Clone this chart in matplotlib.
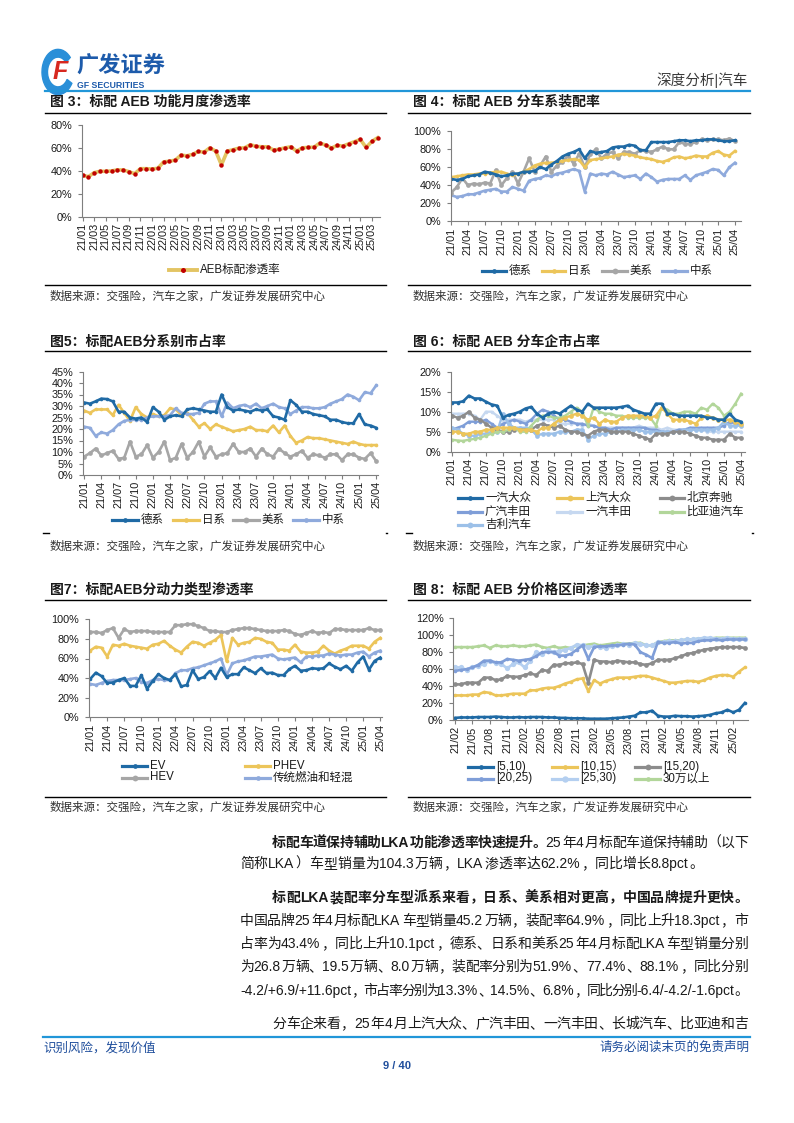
import matplotlib
matplotlib.use("Agg")
import matplotlib.pyplot as plt
from matplotlib.lines import Line2D
from matplotlib import patches

plt.rcParams['font.family'] = ['Liberation Sans', 'Noto Sans CJK SC', 'DejaVu Sans']

W, H = 794, 1123
fig = plt.figure(figsize=(W / 100, H / 100), dpi=100)

# ---------------- data ----------------
ticks_2m = ["21/01", "21/03", "21/05", "21/07", "21/09", "21/11", "22/01", "22/03", "22/05",
            "22/07", "22/09", "22/11", "23/01", "23/03", "23/05", "23/07", "23/09", "23/11",
            "24/01", "24/03", "24/05", "24/07", "24/09", "24/11", "25/01", "25/03"]
ticks_3m = ["21/01", "21/04", "21/07", "21/10", "22/01", "22/04", "22/07", "22/10", "23/01",
            "23/04", "23/07", "23/10", "24/01", "24/04", "24/07", "24/10", "25/01", "25/04"]
ticks_3m_b = ["21/02", "21/05", "21/08", "21/11", "22/02", "22/05", "22/08", "22/11", "23/02",
              "23/05", "23/08", "23/11", "24/02", "24/05", "24/08", "24/11", "25/02"]

# fig 3: AEB standard penetration (%), 21/01-25/04
aeb_rate = [36.1, 34.9, 38.4, 39.6, 39.6, 39.9, 40.8, 40.8, 39.3, 37.5,
            41.9, 41.9, 41.6, 42.2, 47.8, 48.4, 49.3, 53.7, 53.1, 54.3,
            56.9, 56.3, 60.1, 57.2, 45.2, 57.2, 58.4, 59.8, 60.1, 62.8,
            61.3, 61.0, 61.0, 58.1, 58.9, 60.1, 61.0, 57.2, 60.1, 60.4,
            60.7, 64.2, 62.5, 59.8, 62.2, 61.6, 63.6, 65.4, 67.4, 60.4,
            65.7, 68.9]

# fig 4: fitment rate by brand origin (%)
f4_de = [47, 46, 47, 50, 51, 52, 55, 54, 52, 50,
         51, 53, 53, 55, 55, 56, 60, 58, 63, 67,
         72, 75, 77, 80, 70, 78, 76, 77, 78, 82,
         83, 83, 85, 84, 79, 79, 88, 88, 88, 88,
         89, 90, 90, 89, 90, 90, 91, 91, 90, 89,
         89, 90]
f4_jp = [49, 50, 51, 52, 52, 53, 53, 54, 55, 55,
         53, 51, 53, 55, 58, 62, 64, 65, 65, 66,
         67, 68, 69, 68, 60, 68, 69, 70, 71, 72,
         74, 75, 74, 73, 71, 70, 69, 67, 66, 68,
         71, 72, 70, 71, 73, 72, 72, 76, 78, 74,
         73, 78]
f4_us = [32, 38, 48, 40, 42, 41, 43, 42, 57, 40,
         48, 55, 42, 55, 70, 55, 62, 72, 55, 62,
         66, 73, 64, 75, 60, 75, 80, 70, 75, 77,
         70, 77, 77, 75, 79, 78, 77, 80, 83, 80,
         80, 88, 86, 86, 88, 91, 90, 91, 91, 90,
         92, 89]
f4_cn = [29, 27, 28, 30, 30, 32, 34, 35, 36, 33,
         33, 38, 36, 34, 45, 47, 48, 51, 50, 53,
         54, 56, 58, 56, 33, 53, 51, 53, 52, 55,
         52, 49, 50, 51, 47, 53, 49, 44, 46, 47,
         47, 47, 51, 46, 51, 53, 55, 58, 57, 51,
         60, 65]

# fig 5: market share by brand origin (%)
f5_de = [31.5, 31, 32, 33.2, 33, 32, 27.5, 27.5, 25, 24.5,
         25, 23, 29.5, 27.5, 24, 25.5, 26, 25.5, 28.5, 29,
         28.5, 28, 27.5, 27.5, 35, 29.5, 28, 28.5, 28, 27.5,
         28.5, 28, 28.5, 25.5, 25, 24, 32.5, 30.5, 27.5, 27.5,
         26.5, 26, 25.5, 24, 24, 23, 22.5, 22.5, 26.5, 22,
         21.5, 20.5]
f5_jp = [28, 27, 28.5, 28.5, 28.5, 26, 30.5, 27, 23.5, 29.5,
         26.5, 25, 26.5, 25.5, 26, 29, 28.5, 26, 27, 24,
         21, 22.5, 20, 22, 21, 20, 19, 19.5, 20, 21,
         19.5, 19.5, 19, 21.5, 18.5, 21.5, 17, 14, 15, 16.5,
         16, 16, 15.5, 15, 14.5, 14, 13.5, 14.5, 13.5, 13,
         13, 13]
f5_us = [8, 9.5, 11.5, 8.5, 9.5, 10.5, 7, 7.5, 14.5, 8,
         9, 13, 7.5, 10, 14.5, 6.5, 7.5, 13.5, 7.5, 10,
         14.5, 8, 12, 8, 9, 9.5, 13.5, 10, 10, 11.5,
         8, 11.5, 9, 8, 11.5, 9.5, 8, 9, 10.5, 7.5,
         9, 8.5, 7.5, 9, 9, 6.5, 9, 9, 7.5, 7,
         9.5, 6]
f5_cn = [21, 20.5, 17, 18.5, 18, 19.5, 22, 23.5, 24, 24,
         24, 25, 25.5, 25.5, 25.5, 26, 29, 27, 26.5, 26.5,
         27, 31, 32, 32, 25.5, 31.5, 29, 30, 30.5, 29.5,
         31, 29, 30, 31, 29.5, 29, 26.5, 28, 29.5, 29.5,
         29, 29, 29.5, 31, 32, 33, 35, 34, 32.5, 36,
         35.5, 39]

# fig 6: market share by automaker (%)
f6_faw_vw = [12.3, 12.3, 12.6, 14.0, 13.3, 13.3, 12.5, 11.8, 11.5, 8.5,
             9.2, 9.5, 10.0, 10.8, 11.2, 9.5, 8.5, 9.5, 10.0, 9.5,
             10.5, 11.5, 10.5, 10.0, 12.0, 11.0, 11.0, 11.0, 11.0, 11.0,
             11.2, 11.5, 10.5, 10.0, 9.5, 9.5, 12.0, 12.0, 9.5, 9.5,
             9.0, 9.0, 9.0, 9.0, 9.0, 8.5, 8.5, 8.0, 8.0, 9.5,
             8.0, 7.5]
f6_saic_vw = [5, 5, 4.5, 4.5, 5, 5, 5.5, 5.5, 6, 6,
              6, 6, 5.5, 5.5, 5.5, 5, 6, 6, 7, 8,
              8.5, 9, 9.5, 9, 8, 8.5, 7, 8, 7.5, 7.5,
              8.5, 9, 9, 9, 9, 8.5, 9, 11, 9.5, 8,
              8, 8, 7.5, 7, 8.5, 9, 8.5, 8, 8, 8,
              7.5, 7]
f6_bj_benz = [9, 8.5, 9, 10, 8.5, 8, 7, 6, 5.5, 5,
              5, 5.5, 5.5, 5.5, 5.5, 6.5, 7, 6.5, 6, 6.5,
              5.5, 5, 5, 4.5, 4, 5, 5.5, 5.5, 5, 5,
              5, 5, 4.5, 4, 3.5, 3, 4.5, 4.5, 4.5, 5,
              5, 5, 4.5, 4, 3.5, 3.5, 3, 3, 3, 4.5,
              3.5, 3.5]
f6_gac_toyota = [5.5, 6, 6.5, 7.5, 7.5, 7.5, 8, 7, 6, 7,
                 7.5, 8, 7.5, 7, 8, 9.5, 10.5, 10, 9, 8,
                 8, 7.5, 7, 7, 6.5, 6.5, 6, 6, 5.5, 6,
                 6, 6, 6, 6, 6, 5.5, 5.5, 5, 5, 5,
                 5.5, 5.5, 6, 6, 6, 6, 6, 6, 6.5, 7.5,
                 7, 7]
f6_faw_toyota = [9.5, 9.5, 9.5, 9.5, 9, 8, 10, 10, 9, 8,
                 8, 8, 8, 7.5, 8, 8, 8, 8, 8, 7,
                 7, 7, 7, 6.5, 7, 6.5, 6, 6, 6, 6,
                 6, 6, 6, 6.5, 6, 6, 6, 5.5, 6, 5.5,
                 5.5, 5.5, 5.5, 5.5, 5.5, 5, 5, 5, 5, 5,
                 5, 5]
f6_byd = [3, 2.8, 2.7, 3, 3.2, 3.5, 4, 4.5, 5, 5,
          5.5, 6, 5, 5, 6.5, 8, 9, 9, 8.5, 8.5,
          9, 10, 11, 10, 6.5, 11, 10, 9.5, 9.5, 9,
          9, 8.5, 8.5, 8.5, 8.5, 8.5, 6.5, 11, 10.5, 9.5,
          9.5, 10, 10, 9.5, 11, 10.5, 12, 11, 9, 10,
          12, 14.5]
f6_geely = [6, 5.5, 4.5, 4, 4, 4.5, 4.5, 5, 5, 9.5,
            7, 6, 6, 6, 5.5, 4, 4.5, 4.5, 4.5, 5,
            5, 5, 5.5, 5.5, 3, 4, 4.5, 4.5, 5, 5,
            5.5, 5.5, 5.5, 5.5, 5, 5, 5, 5, 5, 5,
            5, 5.5, 5.5, 5.5, 5.5, 5.5, 5.5, 6, 7.5, 6.5,
            6.5, 6.5]

# fig 7: penetration by powertrain (%)
f7_ev = [39, 45.5, 42, 35, 35.5, 38, 40, 32, 32, 43,
         29, 37, 44, 40, 38, 44, 31.5, 33, 48, 39,
         41, 47, 40, 50.5, 41, 44, 44, 51, 48, 45,
         50, 45, 45.5, 43, 43, 49, 52.5, 47.5, 48, 50,
         49.5, 50, 55, 51.5, 49, 52.5, 47.5, 56, 62, 48.5,
         57.5, 61]
f7_phev = [68, 72, 71, 62, 74, 73, 75, 73, 72, 71,
           70, 74, 75, 78, 73, 69, 66, 72, 77, 76,
           73, 76, 79, 84, 57, 81, 74, 76, 77, 81,
           80, 77, 76, 69, 69, 68, 74, 67, 66, 66,
           67, 73, 68, 65, 68, 70, 73, 73, 73, 70,
           77, 81]
f7_hev = [87, 87, 86, 89, 91, 81, 90, 87, 88, 88,
          88, 87, 87, 87, 87, 94, 94, 95, 95, 93,
          91, 88, 88, 87, 87, 89, 90, 91, 91, 90,
          89, 88, 88, 88, 89, 88, 85, 84, 86, 88,
          86, 87, 86, 90, 90, 89, 89, 89, 89, 91,
          89, 89]
f7_ice = [34, 33, 35, 37, 38, 38, 38, 39, 40, 36,
          35, 38, 39, 38, 38, 45, 48, 48, 50, 51,
          53, 55, 57, 60, 43, 55, 57, 58, 60, 62,
          62, 63, 64, 60, 59, 60, 61, 56, 62, 62,
          63, 63, 65, 64, 63, 64, 64, 66, 67, 62,
          66, 68]

# fig 8: penetration by price band (%), 21/02-25/04
f8_5_10 = [2.5, 3, 3, 3, 3.5, 3.5, 3.5, 4, 3.5, 3,
           3, 3.5, 3, 3.5, 3.5, 3.5, 3, 3, 2.5, 2.5,
           2, 2, 2, 1.5, 1.5, 1.5, 1.5, 2, 2.5, 3,
           4, 5, 9, 9, 11, 5, 4, 4, 5, 4.5,
           4.5, 4, 4.5, 5, 6, 8, 9, 12, 9, 12,
           20]
f8_10_15 = [29, 29, 29, 30, 30, 33, 32, 29, 29, 30,
            31, 31, 31, 35, 35, 37, 38, 38, 40, 43,
            45, 48, 49, 34, 47, 43, 46, 48, 50, 50,
            50, 51, 52, 52, 50, 48, 46, 44, 44, 45,
            46, 46, 45, 47, 50, 52, 53, 53, 51, 57,
            62]
f8_15_20 = [42, 42, 44, 44, 44, 50, 50, 47, 48, 52,
            51, 51, 53, 55, 53, 59, 58, 65, 65, 67,
            67, 68, 66, 44, 71, 69, 69, 68, 70, 69,
            68, 68, 66, 65, 67, 71, 71, 71, 73, 75,
            78, 79, 81, 83, 84, 85, 86, 86, 86, 86,
            85]
f8_20_25 = [58, 59, 60, 62, 65, 70, 70, 68, 68, 72,
            71, 70, 71, 72, 75, 80, 80, 80, 76, 76,
            78, 83, 88, 72, 86, 87, 87, 88, 88, 89,
            90, 89, 80, 77, 73, 92, 91, 91, 92, 90,
            91, 91, 93, 94, 94, 95, 94, 95, 95, 95,
            95]
f8_25_30 = [62, 62, 59, 63, 64, 66, 70, 67, 66, 61,
            66, 68, 62, 70, 80, 78, 83, 80, 81, 83,
            85, 89, 88, 86, 87, 86, 85, 87, 88, 90,
            89, 91, 90, 88, 88, 92, 92, 93, 93, 94,
            95, 95, 96, 97, 97, 96, 96, 97, 96, 96,
            96]
f8_30p = [86, 86, 86, 86, 87, 88, 85, 88, 87, 87,
          88, 87, 87, 88, 89, 86, 85, 87, 85, 86,
          85, 88, 88, 89, 90, 88, 89, 90, 91, 90,
          90, 91, 91, 88, 88, 92, 93, 94, 94, 94,
          95, 95, 96, 96, 96, 97, 97, 97, 97, 97,
          97]

C_DB = '#1f6aa5'
C_YE = '#ecc55a'
C_GR = '#a6a6a6'
C_LB = '#8faadc'
C_DG = '#8c8c8c'
C_MB = '#7f9ed8'
C_PB = '#c6d8f0'
C_GN = '#b2d69a'
C_SB = '#9cc0e8'
BLUE = '#1f4e9c'
TXT = '#1a1a1a'
SRC = '#333333'


def fy(y):
    return 1 - y / H


def hline(x0, x1, y, color='black', lw=1.0):
    fig.add_artist(Line2D([x0 / W, x1 / W], [fy(y), fy(y)], color=color, lw=lw,
                          transform=fig.transFigure))


def make_ax(x0, top, x1, bot, xlim, ylim, yt, ytl, xt, xtl):
    ax = fig.add_axes([x0 / W, fy(bot), (x1 - x0) / W, (bot - top) / H])
    ax.set_xlim(xlim)
    ax.set_ylim(ylim)
    for s in ['top', 'right']:
        ax.spines[s].set_visible(False)
    for s in ['left', 'bottom']:
        ax.spines[s].set_color('#7f7f7f')
        ax.spines[s].set_linewidth(0.8)
    ax.set_yticks(yt)
    ax.set_yticklabels(ytl, fontsize=7.8, color=TXT)
    ax.set_xticks(xt)
    ax.set_xticklabels(xtl, rotation=90, fontsize=7.8, color=TXT)
    ax.tick_params(axis='y', direction='out', length=3, width=0.8, color='#7f7f7f', pad=4)
    ax.tick_params(axis='x', direction='out', length=3, width=0.8, color='#7f7f7f', pad=1.5)
    ax.patch.set_alpha(0)
    return ax


def series(ax, vals, color, lw=1.9, ms=2.6, mcolor=None):
    xs = list(range(len(vals)))
    ax.plot(xs, [v / 100 for v in vals], color=color, lw=lw, marker='o', ms=ms,
            mfc=mcolor or color, mec=mcolor or color, mew=0, solid_joinstyle='round')


def leg(x0, x1, y, color, label, lw=2.3, ms=3.4, mcolor=None, size=8.3):
    fig.add_artist(Line2D([x0 / W, x1 / W], [fy(y), fy(y)], color=color, lw=lw,
                          transform=fig.transFigure))
    fig.add_artist(Line2D([(x0 + x1) / 2 / W], [fy(y)], marker='o', ms=ms, color=mcolor or color,
                          mew=0, transform=fig.transFigure))
    fig.text((x1 + 3) / W, fy(y), label, fontsize=size, va='center', ha='left', color=TXT)


def title(x, y, s):
    fig.text(x / W, fy(y), s, fontsize=10, fontweight='bold', va='center', ha='left', color=TXT)


def source(x, y):
    fig.text(x / W, fy(y), "数据来源：交强险，汽车之家，广发证券发展研究中心", fontsize=8.3,
             va='center', ha='left', color=SRC)


pct = lambda vals: [f"{v}%" for v in vals]

# ---------------- header ----------------
fig.add_artist(patches.Wedge((58 / W, fy(72)), 16 / W, 40, 330, width=5.5 / W,
                             color='#2a8fd8', transform=fig.transFigure))
fig.text(60 / W, fy(72), "F", fontsize=18, fontweight='bold', fontstyle='italic', color='#d7281f',
         va='center', ha='center')
fig.text(76 / W, fy(67), "广发证券", fontsize=16, fontweight='bold', color='#1d5bab',
         va='center', ha='left')
fig.text(77 / W, fy(85), "GF SECURITIES", fontsize=6.3, fontweight='bold', color='#1d5bab',
         va='center', ha='left')
fig.text(748 / W, fy(80), "深度分析|汽车", fontsize=10.5, color='#3a3a3a', va='center', ha='right')
hline(45, 750, 91, color='#2196d8', lw=1.6)

# ---------------- fig 3 ----------------
title(50, 101.5, "图 3：标配 AEB 功能月度渗透率")
hline(45, 386, 113)
ax = make_ax(82, 125, 380, 216.7, (-0.1, 51.4), (0, 0.8),
             [0, 0.2, 0.4, 0.6, 0.8], pct([0, 20, 40, 60, 80]),
             list(range(0, 52, 2)), ticks_2m)
ax.plot(range(len(aeb_rate)), [v / 100 for v in aeb_rate], color='#e3c463', lw=2.6)
ax.plot(range(len(aeb_rate)), [v / 100 for v in aeb_rate], ls='none', marker='o', ms=3.2,
        color='#c00000', mew=0)
leg(169, 197, 270, '#e3c463', "AEB标配渗透率", lw=2.8, ms=3.6, mcolor='#c00000')
hline(45, 386, 285)
source(50, 297)

# ---------------- fig 4 ----------------
title(413, 101.5, "图 4：标配 AEB 分车系装配率")
hline(408, 750, 113)
ax = make_ax(451, 131.3, 741, 221.3, (-0.05, 52.1), (0, 1.0),
             [0, 0.2, 0.4, 0.6, 0.8, 1.0], pct([0, 20, 40, 60, 80, 100]),
             list(range(0, 52, 3)), ticks_3m)
series(ax, f4_cn, C_LB)
series(ax, f4_us, C_GR, ms=3.4)
series(ax, f4_jp, C_YE)
series(ax, f4_de, C_DB)
leg(482, 506, 271, C_DB, "德系")
leg(542, 565, 271, C_YE, "日系")
leg(602, 627, 271, C_GR, "美系", ms=4.2)
leg(662, 687, 271, C_LB, "中系")
hline(408, 750, 285)
source(413, 297)

# ---------------- fig 5 ----------------
title(50, 341.5, "图5：标配AEB分系别市占率")
hline(45, 386, 351)
ax = make_ax(83, 371.5, 378, 475, (-0.2, 51.3), (0, 0.45),
             [0, 0.05, 0.1, 0.15, 0.2, 0.25, 0.3, 0.35, 0.4, 0.45],
             pct([0, 5, 10, 15, 20, 25, 30, 35, 40, 45]),
             list(range(0, 52, 3)), ticks_3m)
series(ax, f5_us, C_GR, ms=3.4)
series(ax, f5_jp, C_YE)
series(ax, f5_cn, C_LB)
series(ax, f5_de, C_DB)
leg(112, 138, 520, C_DB, "德系")
leg(173, 199, 520, C_YE, "日系")
leg(233, 259, 520, C_GR, "美系", ms=4.2)
leg(293, 319, 520, C_LB, "中系")
hline(43, 49, 533)
hline(385.5, 386.5, 533)
source(50, 547)

# ---------------- fig 6 ----------------
title(413, 341.5, "图 6：标配 AEB 分车企市占率")
hline(408, 750, 351)
ax = make_ax(450.7, 371.7, 745, 451.7, (-0.2, 51.7), (0, 0.2),
             [0, 0.05, 0.1, 0.15, 0.2], pct([0, 5, 10, 15, 20]),
             list(range(0, 52, 3)), ticks_3m)
series(ax, f6_faw_toyota, C_PB, lw=1.7)
series(ax, f6_gac_toyota, C_MB, lw=1.7)
series(ax, f6_geely, C_SB, lw=1.7, ms=3.4)
series(ax, f6_bj_benz, C_DG, lw=1.7, ms=3.4)
series(ax, f6_byd, C_GN, lw=1.7)
series(ax, f6_saic_vw, C_YE, lw=1.7, ms=3.4)
series(ax, f6_faw_vw, C_DB, lw=1.9)
leg(458, 482, 498, C_DB, "一汽大众")
leg(557, 582, 498, C_YE, "上汽大众", ms=4.2)
leg(660, 684, 498, C_DG, "北京奔驰", ms=4.2)
leg(458, 482, 512, C_MB, "广汽丰田")
leg(557, 582, 512, C_PB, "一汽丰田")
leg(660, 684, 512, C_GN, "比亚迪汽车")
leg(458, 482, 525, C_SB, "吉利汽车", ms=4.2)
hline(406, 412, 533)
hline(751.5, 752.5, 533)
source(413, 547)

# ---------------- fig 7 ----------------
title(50, 590, "图7：标配AEB分动力类型渗透率")
hline(45, 386, 600)
ax = make_ax(89, 619.3, 382, 717.3, (-0.2, 51.3), (0, 1.0),
             [0, 0.2, 0.4, 0.6, 0.8, 1.0], pct([0, 20, 40, 60, 80, 100]),
             list(range(0, 52, 3)), ticks_3m)
series(ax, f7_hev, C_GR, ms=3.4)
series(ax, f7_phev, C_YE)
series(ax, f7_ice, C_LB)
series(ax, f7_ev, C_DB)
leg(122, 147, 766, C_DB, "EV")
leg(245, 270, 766, C_YE, "PHEV")
leg(122, 147, 777.5, C_GR, "HEV", ms=4.2)
leg(245, 270, 777.5, C_LB, "传统燃油和轻混")
hline(45, 386, 797)
source(50, 808)

# ---------------- fig 8 ----------------
title(413, 590, "图 8：标配 AEB 分价格区间渗透率")
hline(408, 750, 600)
ax = make_ax(453.3, 618.3, 748, 720, (-0.3, 50.55), (0, 1.2),
             [0, 0.2, 0.4, 0.6, 0.8, 1.0, 1.2], pct([0, 20, 40, 60, 80, 100, 120]),
             list(range(0, 51, 3)), ticks_3m_b)
series(ax, f8_30p, C_GN)
series(ax, f8_25_30, '#b4cff0', ms=3.8)
series(ax, f8_20_25, C_MB)
series(ax, f8_15_20, C_DG, ms=3.4)
series(ax, f8_10_15, C_YE)
series(ax, f8_5_10, C_DB)
leg(468, 493, 767, C_DB, "[5,10)")
leg(552, 577, 767, C_YE, "[10,15）")
leg(635, 660, 767, C_DG, "[15,20)", ms=4.2)
leg(468, 493, 778.5, C_MB, "[20,25)")
leg(552, 577, 778.5, '#b4cff0', "[25,30)", ms=4.6)
leg(635, 660, 778.5, C_GN, "30万以上")
hline(408, 750, 797)
source(413, 808)

# ---------------- body text ----------------
renderer = fig.canvas.get_renderer()


def is_cjk(ch):
    return ord(ch) > 0x2E80


def put_line(x0, yc, segs, x1=None, size=10.0):
    toks = []
    for s, bold in segs:
        buf = ''
        for ch in s:
            if is_cjk(ch):
                if buf:
                    toks.append((buf, bold))
                    buf = ''
                toks.append((ch, bold))
            else:
                buf += ch
        if buf:
            toks.append((buf, bold))
    em = size * 100 / 72
    items = []
    for s, bold in toks:
        t = fig.text(0, fy(yc + 5), s, fontsize=size, fontweight='bold' if bold else 'normal',
                     va='baseline', ha='left', color=TXT)
        w = em if is_cjk(s[0]) else t.get_window_extent(renderer).width + 1.5
        items.append((t, w))
    total = sum(w for _, w in items)
    gap = 0.0 if x1 is None else (x1 - x0 - total) / (len(items) - 1)
    x = x0
    for t, w in items:
        t.set_x(x / W)
        x += w + gap


put_line(272, 842, [("标配车道保持辅助LKA功能渗透率快速提升。", True),
                    ("25年4月标配车道保持辅助（以下", False)], 748)
put_line(240, 863, [("简称LKA）车型销量为104.3万辆，LKA渗透率达62.2%，同比增长8.8pct。", False)])
put_line(272, 897, [("标配LKA装配率分车型派系来看，日系、美系相对更高，中国品牌提升更快。", True)], 748)
put_line(240, 920, [("中国品牌25年4月标配LKA车型销量45.2万辆，装配率64.9%，同比上升18.3pct，市", False)], 748)
put_line(240, 943, [("占率为43.4%，同比上升10.1pct，德系、日系和美系25年4月标配LKA车型销量分别", False)], 748)
put_line(240, 966, [("为26.8万辆、19.5万辆、8.0万辆，装配率分别为51.9%、77.4%、88.1%，同比分别", False)], 748)
put_line(240, 990, [("-4.2/+6.9/+11.6pct，市占率分别为13.3%、14.5%、6.8%，同比分别-6.4/-4.2/-1.6pct。", False)], 748)
put_line(272, 1023, [("分车企来看，25年4月上汽大众、广汽丰田、一汽丰田、长城汽车、比亚迪和吉", False)], 748)

# ---------------- footer ----------------
hline(43, 750, 1037, color='#2196d8', lw=1.6)
fig.text(43 / W, fy(1048), "识别风险，发现价值", fontsize=9, color=BLUE, va='center', ha='left')
fig.text(750 / W, fy(1048), "请务必阅读末页的免责声明", fontsize=9, color=BLUE, va='center', ha='right')
fig.text(397 / W, fy(1066), "9 / 40", fontsize=8, fontweight='bold', color=BLUE, va='center', ha='center')

fig.savefig("out.png", dpi=100)
